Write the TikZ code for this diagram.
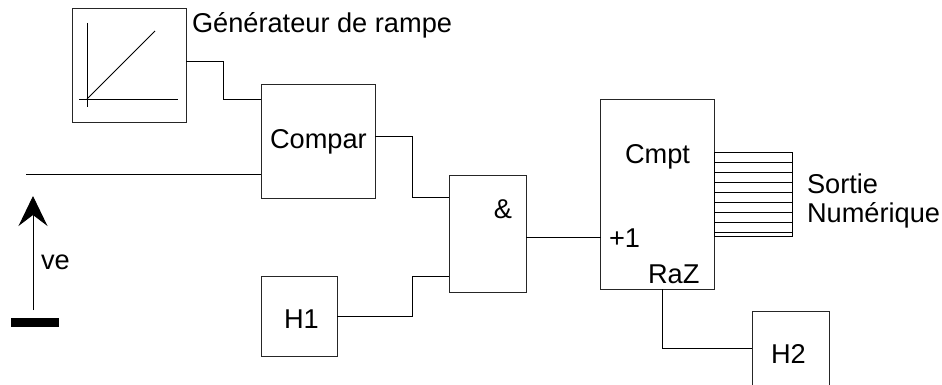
\documentclass[tikz,border=0pt]{standalone}
\usepackage{fontspec}
\setmainfont{Liberation Sans}
\usetikzlibrary{arrows.meta}
\begin{document}
\begin{tikzpicture}[x=1pt,y=1pt,
  box/.style={draw=black!85,line width=0.9pt,minimum width=#1,inner sep=0pt,outer sep=0pt},
  wire/.style={draw=black,line width=0.9pt},
  txt/.style={font=\fontsize{27.2}{30}\selectfont,inner sep=0pt,outer sep=0pt,anchor=base west}]
\clip (0,0) rectangle (942,-385);
\useasboundingbox (0,0) rectangle (942,-385);
% boxes
\node[box=114pt,minimum height=114pt] (ramp) at (129,-65) {};
\node[box=114pt,minimum height=114pt] (compar) at (318,-141) {};
\node[box=77pt,minimum height=117pt] (and) at (487.5,-233.5) {};
\node[box=76pt,minimum height=80pt] (h1) at (299,-316) {};
\node[box=114pt,minimum height=190pt] (cmpt) at (657.5,-194) {};
\node[box=77pt,minimum height=88pt] (h2) at (790.5,-355) {};
% ramp symbol
\draw[wire] (87,-23) -- (87,-107);
\draw[wire] (79,-99) -- (178,-99);
\draw[wire] (87,-99) -- (155,-31);
% texts
\node[txt] (tramp) at (192,-33) {Générateur de rampe};
\node[txt] (tcompar) at (270,-148) {Compar};
\node[txt,anchor=base] (tand) at (503,-218) {\&};
\node[txt] (th1) at (284,-328) {H1};
\node[txt] (tcmpt) at (625,-164) {Cmpt};
\node[txt] (tplus) at (609,-247) {+1};
\node[txt] (traz) at (648,-283) {RaZ};
\node[txt] (th2) at (771,-363) {H2};
\node[txt] (tsortie) at (807,-193) {Sortie};
\node[txt] (tnum) at (807,-222) {Numérique};
\node[txt] (tve) at (41,-269) {ve};
% bus
\draw[line width=0.9pt] (714,-152) rectangle (792,-236);
\foreach \k in {1,...,8}{\draw[line width=0.9pt] (714,-152-10.1*\k) -- (792,-152-10.1*\k);}
% connectors
\draw[wire] ([yshift=4pt]ramp.east) -- ++(37,0) |- ([yshift=42pt]compar.west);
\coordinate (vin) at (26,-174);
\draw[wire] (vin) -- (vin -| compar.west);
\draw[wire] ([yshift=5pt]compar.east) -- ++(37,0) |- ([yshift=36.5pt]and.west);
\draw[wire] (h1.east) -- ++(75,0) |- ([yshift=-42.5pt]and.west);
\draw[wire] ([yshift=-3.5pt]and.east) -- ([yshift=-3.5pt]and.east -| cmpt.west);
\draw[wire] ([xshift=4.5pt]cmpt.south) |- ([yshift=7pt]h2.west);
% voltage arrow
\coordinate (vb) at (33,-310);
\coordinate (vt) at (33,-196);
\draw[wire,-{Stealth[length=30pt,width=29pt,inset=11pt]}] (vb) -- (vt);
\fill[black] (11,-318) rectangle (59,-327);
\end{tikzpicture}
\end{document}
